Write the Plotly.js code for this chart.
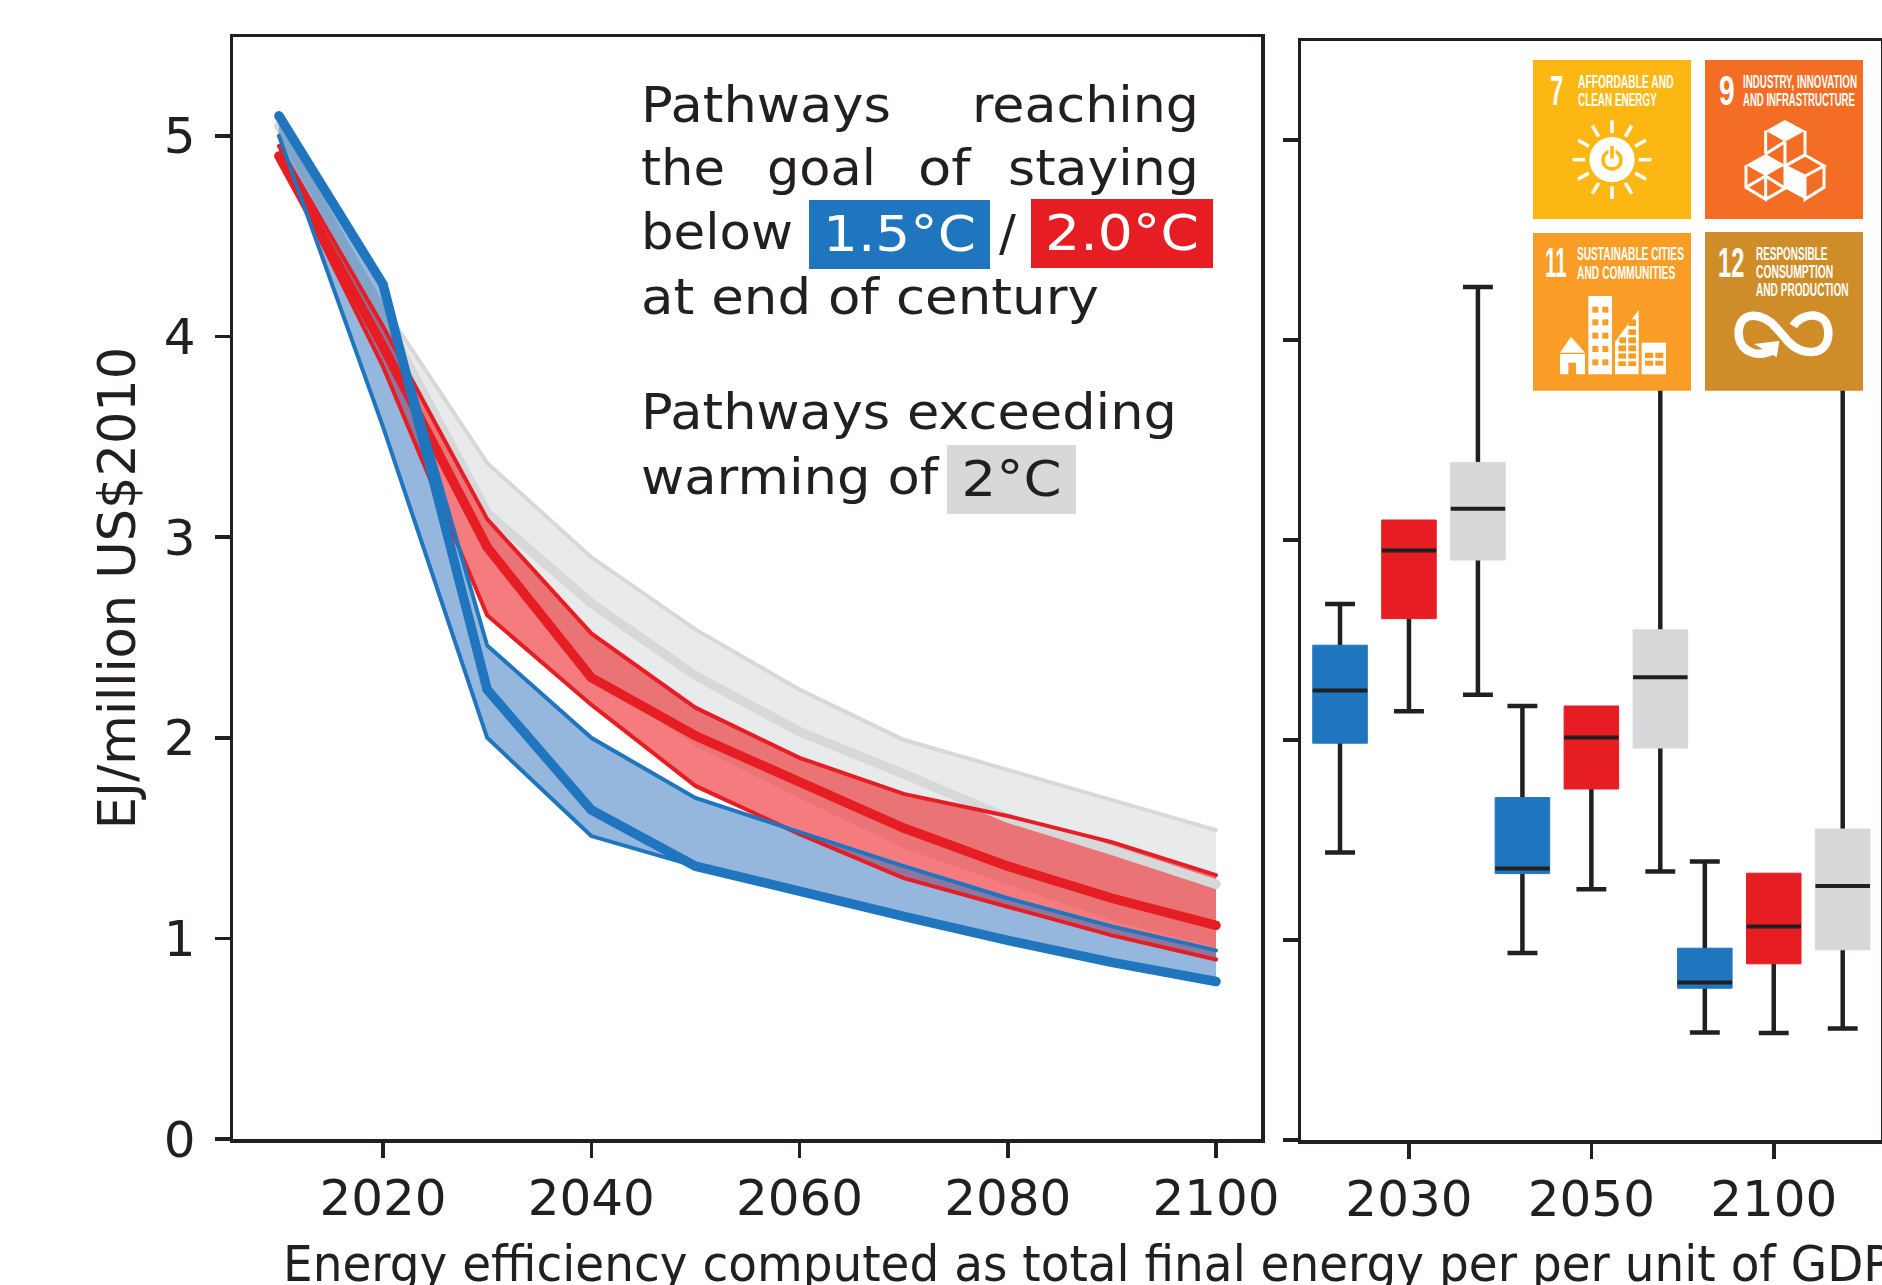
<!DOCTYPE html>
<html><head><meta charset="utf-8">
<script src="https://cdn.plot.ly/plotly-3.0.1.min.js"></script>
<style>html,body{margin:0;padding:0;background:#fff;overflow:hidden}#chart{width:1882px;height:1285px}</style>
</head><body><div id="chart"></div>
<script>
// ---------- data ----------
const years = [2010,2020,2030,2040,2050,2060,2070,2080,2090,2100];
const blueThick = [5.10,4.26,2.24,1.64,1.36,1.23,1.11,0.99,0.88,0.785];
const blueUpper = [5.10,4.26,2.46,2.00,1.70,1.53,1.36,1.20,1.06,0.94];
const blueLower = [5.00,3.55,2.00,1.51,1.36,1.23,1.11,0.99,0.88,0.785];
const redThick  = [4.90,3.95,2.95,2.30,2.01,1.78,1.55,1.36,1.20,1.065];
const redUpper  = [4.95,4.05,3.09,2.52,2.15,1.90,1.72,1.61,1.48,1.315];
const redLower  = [4.90,3.85,2.61,2.165,1.76,1.52,1.30,1.155,1.015,0.895];
const greyThick = [5.05,4.10,3.12,2.67,2.31,2.03,1.82,1.60,1.44,1.27];
const greyUpper = [5.05,4.15,3.37,2.90,2.54,2.24,1.99,1.84,1.69,1.54];
const greyLower = [5.00,3.90,2.97,2.34,1.96,1.70,1.45,1.27,1.09,0.957];

const boxYears = ['2030','2050','2100'];
const blueBox = {low:[1.438,0.935,0.538], q1:[1.984,1.332,0.759], med:[2.248,1.358,0.788], q3:[2.474,1.712,0.959], high:[2.68,2.17,1.393]};
const redBox  = {low:[2.144,1.254,0.535], q1:[2.607,1.755,0.881], med:[2.948,2.013,1.068], q3:[3.10,2.17,1.334], high:[3.0,2.1,1.25]};
const greyBox = {low:[2.226,1.342,0.557], q1:[2.90,1.96,0.951], med:[3.156,2.314,1.27], q3:[3.388,2.551,1.555], high:[4.265,4.0,4.0]};

// ---------- style ----------
const W=1882, H=1285;
const INK='#231f20', BLUE='#1f75be', RED='#e71d24', GREY='#d6d8da';
const px=x=>x/W, py=y=>1-y/H;
const THIN=4, THICK=9.5;

const traces=[];
const line=(y,color,width)=>({x:years,y,mode:'lines',line:{color,width},xaxis:'x',yaxis:'y',showlegend:false,hoverinfo:'skip'});
const fillBand=(up,lo,fill)=>({x:years.concat(years.slice().reverse()),y:up.concat(lo.slice().reverse()),mode:'lines',fill:'toself',fillcolor:fill,line:{width:0},xaxis:'x',yaxis:'y',showlegend:false,hoverinfo:'skip'});
traces.push(fillBand(greyUpper,greyLower,'rgba(214,216,218,0.55)'));
traces.push(line(greyUpper,GREY,THIN));
traces.push(line(greyLower,'rgba(235,235,235,0.8)',1));
traces.push(fillBand(redUpper,redLower,'rgba(236,29,33,0.58)'));
traces.push(line(greyThick,GREY,THICK));
traces.push(fillBand(blueUpper,blueLower,'rgba(43,111,187,0.5)'));
traces.push(line(redUpper,RED,THIN));
traces.push(line(redLower,RED,THIN));
traces.push(line(redThick,RED,THICK));
traces.push(line(blueUpper,BLUE,THIN));
traces.push(line(blueLower,BLUE,THIN));
traces.push(line(blueThick,BLUE,THICK));

const BOXW=0.299, OFF=0.378, CAPW=0.164;
function boxes(b,color,off){
  const xs=boxYears.map((_,i)=>i+off);
  const base={type:'box',x:xs,xaxis:'x2',yaxis:'y2',boxpoints:false,showlegend:false,hoverinfo:'skip'};
  // whiskers: the box of this trace collapses on the median, hidden by the filled box above it
  traces.push(Object.assign({},base,{width:CAPW,q1:b.med,median:b.med,q3:b.med,lowerfence:b.low,upperfence:b.high,line:{color:INK,width:4.5},fillcolor:INK,whiskerwidth:1}));
  traces.push(Object.assign({},base,{width:BOXW,q1:b.q1,median:b.med,q3:b.q3,lowerfence:b.q1,upperfence:b.q3,line:{color,width:1},fillcolor:color,whiskerwidth:0}));
  traces.push({x:xs,y:b.med,mode:'markers',marker:{size:1,opacity:0},error_x:{type:'constant',value:BOXW/2,thickness:4,width:0,color:INK},xaxis:'x2',yaxis:'y2',showlegend:false,hoverinfo:'skip'});
}
boxes(blueBox,BLUE,-OFF); boxes(redBox,RED,0); boxes(greyBox,GREY,OFF);

// ---------- annotations ----------
const FONT='"DejaVu Sans", sans-serif';
const anns=[]; const fit=[];
function T(text,x0,x1,y,opt={}){
  anns.push(Object.assign({text,x:px(x0),y:py(y),xref:'paper',yref:'paper',xanchor:'left',yanchor:'middle',showarrow:false,align:'left',borderpad:0,borderwidth:0,font:{family:FONT,size:50,color:INK}},opt));
  if(x1) fit.push([anns.length-1,x1-x0]);
}
T('Pathways',641,891,105); T('reaching',972,1199,105);
T('the',641,725,168); T('goal',767,876,168); T('of',918,972,168); T('staying',1008,1199,168);
T('below',641,793,232); T('/',999,null,233); T('at end of century',641,1099,297);
T('Pathways exceeding',641,1177,412); T('warming of',641,940,477);
function badge(t,x0,x1,y0,y1,bg,col,tw){
  anns.push({text:t,x:px((x0+x1)/2),y:py((y0+y1)/2),xref:'paper',yref:'paper',xanchor:'center',yanchor:'middle',showarrow:false,align:'center',borderpad:0,borderwidth:0,width:x1-x0,height:y1-y0,bgcolor:bg,font:{family:FONT,size:50,color:col}});
  fit.push([anns.length-1,tw]);
}
badge('1.5°C',809,990,200,269,BLUE,'#fff',153);
badge('2.0°C',1031,1213,199,268,RED,'#fff',154);
badge('2°C',947,1076,445,514,GREY,INK,100);
T('Energy efficiency computed as total final energy per per unit of GDP',283,1892,1264);

// ---------- SDG tiles (coordinates in the tile drawing's own frame) ----------
const zx=v=>v/3+1500, zy=v=>v/3+40;
const shapes=[];
const zpath=d=>d.replace(/(-?[\d.]+),(-?[\d.]+)/g,(m,a,b)=>px(zx(+a))+','+py(zy(+b)));
const S=(d,fill,stroke,w)=>shapes.push({type:'path',xref:'paper',yref:'paper',path:zpath(d),fillcolor:fill||'rgba(0,0,0,0)',line:{color:stroke||'rgba(0,0,0,0)',width:w||0},layer:'above'});
const R=(x0,y0,x1,y1,c)=>S(`M${x0},${y0} L${x1},${y0} L${x1},${y1} L${x0},${y1} Z`,c);
const tiles=[[99,60,573,537,'#fdb713'],[615,60,1089,537,'#f36e24'],[99,579,573,1052,'#f99d26'],[615,576,1089,1052,'#cf8d2a']];
tiles.forEach(t=>R(t[0],t[1],t[2],t[3],t[4]));

// sun
const circ=(cx,cy,r,fill,stroke,w)=>shapes.push({type:'circle',xref:'paper',yref:'paper',x0:px(zx(cx-r)),x1:px(zx(cx+r)),y0:py(zy(cy+r)),y1:py(zy(cy-r)),fillcolor:fill,line:{color:stroke||'rgba(0,0,0,0)',width:w||0},layer:'above'});
for(let i=0;i<12;i++){const a=i*Math.PI/6,c=Math.sin(a),s=Math.cos(a);
  S(`M${336+c*80},${359-s*80} L${336+c*118},${359-s*118}`,null,'#fff',3.5);}
circ(336,359,68,'#fff');
circ(336,360,27,'#fff','#fdb713',3.5);
S('M336,325 L336,345',null,'#fff',7);
S('M336,318 L336,356',null,'#fdb713',3.5);

// cubes
const W3='#fff';
S('M855,240 L915,272 L855,305 L797,272 Z','#fff');
S('M797,272 L797,342 M915,272 L915,345 M855,305 L855,378 M797,342 L855,305 M855,378 L915,345',null,W3,3);
S('M797,342 L855,375 L797,408 L738,375 Z','#fff');
S('M738,375 L738,442 L797,478 L797,408 M797,478 L855,445 L855,378 M738,442 L797,408 M797,408 L855,445',null,W3,3);
S('M915,345 L972,378 L915,408 L855,378 Z',null,W3,3);
S('M972,378 L972,442 L915,478 L915,408',null,W3,3);
S('M855,378 L915,408 L915,478 L855,445 Z','#fff');

// city
const C11='#f99d26';
S('M213,890 L255,938 L180,938 Z','#fff');
S('M180,942 L255,942 L255,1003 L228,1003 L228,968 L205,968 L205,1003 L180,1003 Z','#fff');
R(265,768,336,1003,'#fff');
[800,838,878,918,958].forEach(y=>[277,307].forEach(x=>R(x,y,x+18,y+18,C11)));
S('M345,905 L416,810 L416,1003 L345,1003 Z','#fff');
[[385,838,408,858],[385,868,408,885],[358,892,378,910],[385,892,408,910],[355,916,378,934],[385,916,408,934],[355,940,378,956],[385,940,408,956],[355,964,378,978],[385,964,408,978]].forEach(r=>R(r[0],r[1],r[2],r[3],C11));
R(425,908,498,1003,'#fff');
[[435,938,459,954],[466,938,490,954],[435,962,459,977],[466,962,490,977]].forEach(r=>R(r[0],r[1],r[2],r[3],C11));

// infinity
S('M880,858 C905,815 985,810 985,880 C985,950 905,950 865,905 L830,865 C790,815 716,810 716,880 C716,945 790,955 825,925',null,'#fff',8.5);
S('M762,912 L838,903 L830,952 Z','#fff');

// tile labels (real text, narrowed to the tile's condensed type)
function L(text,x0,x1,yc,size){
  T(text,zx(x0),zx(x1),zy(yc),{font:{family:'"Liberation Sans", sans-serif',size,color:'#fff',weight:700}});
}
L('7',150,190,150,43); L('AFFORDABLE AND',235,522,125,19); L('CLEAN ENERGY',235,472,180,19);
L('9',658,705,150,43); L('INDUSTRY, INNOVATION',730,1072,125,19); L('AND INFRASTRUCTURE',730,1066,180,19);
L('11',135,200,667,43); L('SUSTAINABLE CITIES',232,553,642,19); L('AND COMMUNITIES',232,527,698,19);
L('12',653,732,667,43); L('RESPONSIBLE',768,982,640,19); L('CONSUMPTION',768,1000,695,19); L('AND PRODUCTION',768,1046,750,19);

// ---------- layout ----------
const axisBase={showgrid:false,zeroline:false,showline:true,mirror:true,linecolor:INK,linewidth:3.5,ticks:'outside',tickcolor:INK,tickwidth:3.5,ticklen:15,tickfont:{family:FONT,size:50,color:INK}};
const layout={
  width:W,height:H,margin:{l:0,r:0,t:0,b:0},paper_bgcolor:'#fff',plot_bgcolor:'#fff',showlegend:false,boxmode:'overlay',
  xaxis:Object.assign({},axisBase,{domain:[px(233),px(1261)],range:[2005.59,2104.32],tickvals:[2020,2040,2060,2080,2100],ticktext:['2020','2040','2060','2080','2100'],anchor:'y',ticklabelstandoff:-3}),
  yaxis:Object.assign({},axisBase,{domain:[py(1139),py(37)],range:[0,5.493],tickvals:[0,1,2,3,4,5],anchor:'x',ticklabelstandoff:9,title:{text:'EJ/million US$2010',font:{family:FONT,size:51,color:INK},standoff:13}}),
  xaxis2:Object.assign({},axisBase,{domain:[px(1301),px(1881)],range:[-0.592,2.588],tickvals:[0,1,2],ticktext:boxYears,anchor:'y2',ticklabelstandoff:-3}),
  yaxis2:Object.assign({},axisBase,{domain:[py(1140),py(41)],range:[0,5.495],tickvals:[0,1,2,3,4,5],showticklabels:false,anchor:'x2'}),
  annotations:anns,shapes:shapes
};
Plotly.newPlot('chart',traces,layout,{staticPlot:true,displayModeBar:false}).then(()=>{
  fit.forEach(([i,w])=>{
    const t=document.querySelector('.annotation[data-index="'+i+'"] text');
    if(!t) return;
    const b=t.getBBox();
    const ax=anns[i].align==='center'?b.x+b.width/2:b.x;
    t.setAttribute('transform',`translate(${ax},0) scale(${w/b.width},1) translate(${-ax},0)`);
  });
  document.querySelectorAll('.scatterlayer .js-line').forEach(p=>{p.style.strokeLinecap='round';});
});
</script></body></html>
